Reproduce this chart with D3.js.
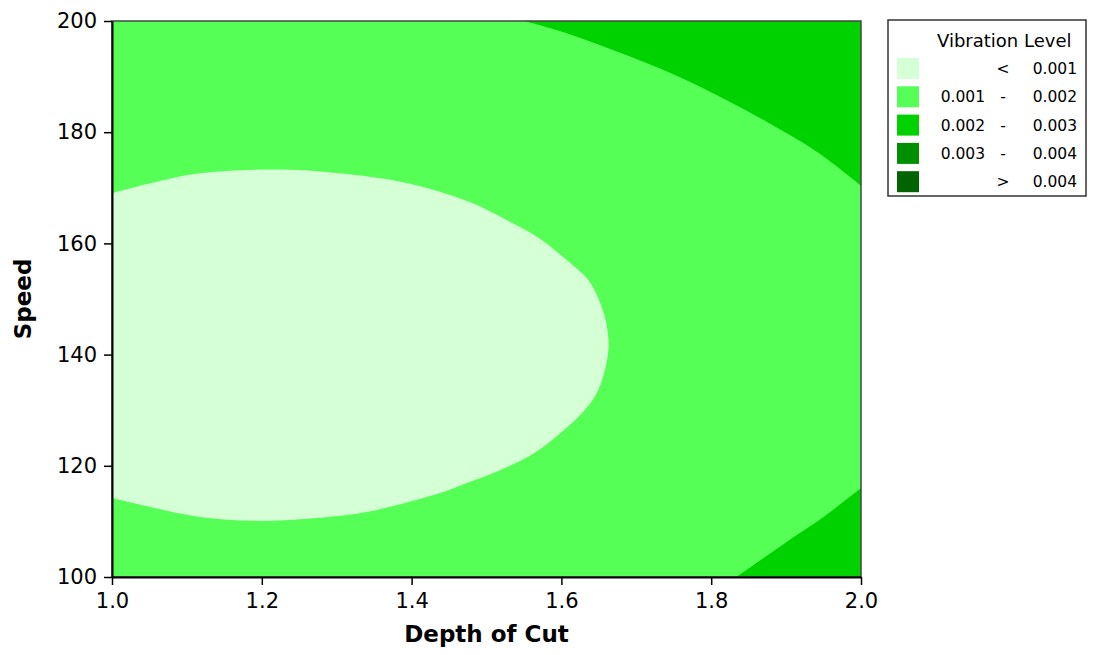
<!DOCTYPE html>
<html>
<head>
<meta charset="utf-8">
<script src="https://cdn.jsdelivr.net/npm/d3@7"></script>
<style>
body { margin: 0; background: #fff; }
text { font-family: Tahoma, "DejaVu Sans", sans-serif; fill: #000; }
</style>
</head>
<body>
<div id="chart"></div>
<script>
// size of the page and plot margins
var svgWidth = 1094;
var svgHeight = 655;
var margin = { top: 21, right: 233, bottom: 78, left: 112 };
var width = svgWidth - margin.left - margin.right;
var height = svgHeight - margin.top - margin.bottom;

// tick labels
var xTicks = [1.0, 1.2, 1.4, 1.6, 1.8, 2.0];
var yTicks = [100, 120, 140, 160, 180, 200];

// legend classes
var levelLow = ["", "0.001", "0.002", "0.003", ""];
var levelSign = ["<", "-", "-", "-", ">"];
var levelHigh = ["0.001", "0.002", "0.003", "0.004", "0.004"];
var levelColors = ["#d5ffd5", "#55ff55", "#00d200", "#008f00", "#006400"];

// contour boundaries: [depth, speed]
// 0.001 contour (closed against the left edge)
var contour001 = [
  [1.000, 169.0], [1.051, 170.8], [1.117, 172.6], [1.227, 173.3], [1.304, 172.6],
  [1.385, 171.1], [1.438, 169.3], [1.482, 167.2], [1.527, 164.2], [1.571, 160.9],
  [1.607, 157.0], [1.636, 153.4], [1.652, 149.2], [1.660, 145.6], [1.663, 141.4],
  [1.658, 137.2], [1.647, 133.0], [1.629, 129.7], [1.598, 125.8], [1.563, 122.2],
  [1.518, 119.2], [1.474, 116.9], [1.438, 115.1], [1.340, 111.7], [1.251, 110.4],
  [1.189, 110.1], [1.117, 110.8], [1.051, 112.6], [1.000, 114.2]
];
// 0.002 contour, upper right corner
var contour002Top = [
  [1.551, 200.0], [1.607, 197.8], [1.674, 194.5], [1.741, 190.9], [1.807, 186.7],
  [1.874, 181.9], [1.941, 176.5], [2.000, 170.4]
];
// 0.002 contour, lower right corner
var contour002Bottom = [
  [2.000, 116.0], [1.950, 110.8], [1.905, 106.7], [1.870, 103.4], [1.834, 100.0]
];

var svg = d3.select("#chart")
  .append("svg")
  .attr("width", svgWidth)
  .attr("height", svgHeight);

var chartGroup = svg.append("g")
  .attr("transform", `translate(${margin.left}, ${margin.top})`);

var xScale = d3.scaleLinear().domain([1.0, 2.0]).range([0, width]);
var yScale = d3.scaleLinear().domain([100, 200]).range([height, 0]);

var line = d3.line()
  .x(d => xScale(d[0]))
  .y(d => yScale(d[1]))
  .curve(d3.curveCatmullRom);

// base band 0.001 - 0.002
chartGroup.append("rect")
  .attr("x", xScale(1.0))
  .attr("y", yScale(200))
  .attr("width", xScale(2.0) - xScale(1.0))
  .attr("height", yScale(100) - yScale(200))
  .attr("fill", levelColors[1]);

// upper right 0.002 - 0.003
chartGroup.append("path")
  .attr("d", line(contour002Top) + `L${xScale(2.0)},${yScale(200)}Z`)
  .attr("fill", levelColors[2]);

// lower right 0.002 - 0.003
chartGroup.append("path")
  .attr("d", line(contour002Bottom) + `L${xScale(2.0)},${yScale(100)}Z`)
  .attr("fill", levelColors[2]);

// low vibration ellipse
chartGroup.append("path")
  .attr("d", line(contour001) + "Z")
  .attr("fill", levelColors[0]);

// frame
chartGroup.append("rect")
  .attr("width", width)
  .attr("height", height)
  .attr("fill", "none")
  .attr("stroke", "#444")
  .attr("stroke-width", 1.5);

// axes
var bottomAxis = d3.axisBottom(xScale)
  .tickValues(xTicks)
  .tickFormat(d3.format(".1f"))
  .tickSize(8)
  .tickSizeOuter(0);
var leftAxis = d3.axisLeft(yScale)
  .tickValues(yTicks)
  .tickSize(8)
  .tickSizeOuter(0);

var xAxis = chartGroup.append("g")
  .attr("transform", `translate(0, ${height})`)
  .call(bottomAxis);
var yAxis = chartGroup.append("g")
  .call(leftAxis);

[xAxis, yAxis].forEach(function(ax) {
  ax.select(".domain").attr("stroke", "#000").attr("stroke-width", 2);
  ax.selectAll(".tick line").attr("stroke", "#000").attr("stroke-width", 1.5);
  ax.selectAll(".tick text")
    .attr("font-size", 21)
    .attr("font-family", "Tahoma, 'DejaVu Sans', sans-serif")
    .attr("fill", "#000");
});
xAxis.selectAll(".tick text").attr("dy", "0.95em");
yAxis.selectAll(".tick text").attr("x", -15);

// axis titles
chartGroup.append("text")
  .attr("x", width / 2)
  .attr("y", height + 65)
  .attr("text-anchor", "middle")
  .attr("font-size", 23)
  .attr("font-weight", "bold")
  .text("Depth of Cut");

chartGroup.append("text")
  .attr("transform", "rotate(-90)")
  .attr("x", -height / 2)
  .attr("y", -81)
  .attr("text-anchor", "middle")
  .attr("font-size", 23)
  .attr("font-weight", "bold")
  .text("Speed");

// legend
var legend = svg.append("g")
  .attr("transform", "translate(888, 20)");

legend.append("rect")
  .attr("width", 198)
  .attr("height", 176)
  .attr("fill", "#fff")
  .attr("stroke", "#333")
  .attr("stroke-width", 1.5);

legend.append("text")
  .attr("x", 49)
  .attr("y", 27)
  .attr("font-size", 18)
  .text("Vibration Level");

var rows = legend.selectAll("g.row")
  .data(levelColors)
  .enter()
  .append("g")
  .attr("class", "row")
  .attr("transform", (d, i) => `translate(0, ${38 + i * 28.3})`);

rows.append("rect")
  .attr("x", 9)
  .attr("y", 0)
  .attr("width", 22)
  .attr("height", 21)
  .attr("fill", d => d);

rows.append("text")
  .attr("x", 97)
  .attr("y", 16)
  .attr("text-anchor", "end")
  .attr("font-size", 15.5)
  .text((d, i) => levelLow[i]);

rows.append("text")
  .attr("x", 115)
  .attr("y", 16)
  .attr("text-anchor", "middle")
  .attr("font-size", 15.5)
  .text((d, i) => levelSign[i]);

rows.append("text")
  .attr("x", 189)
  .attr("y", 16)
  .attr("text-anchor", "end")
  .attr("font-size", 15.5)
  .text((d, i) => levelHigh[i]);
</script>
</body>
</html>
